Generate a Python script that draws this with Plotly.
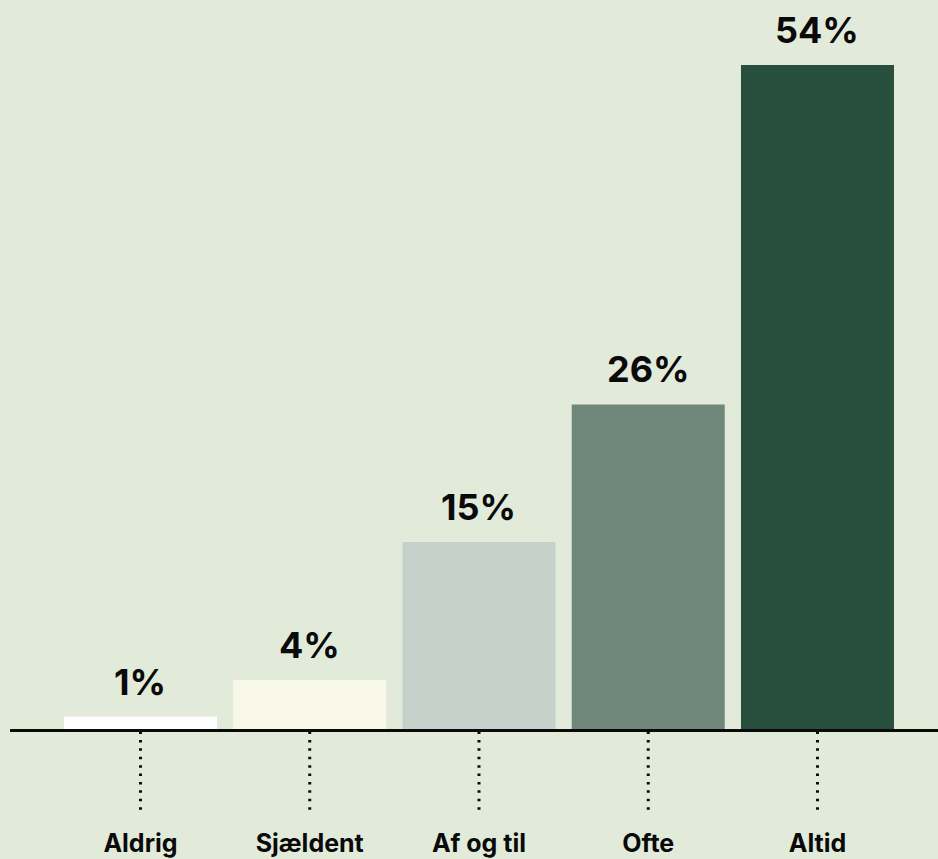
import plotly.graph_objects as go

categories = ["Aldrig", "Sjældent", "Af og til", "Ofte", "Altid"]
values = [1.0, 4.0, 15.2, 26.4, 54.0]
value_labels = ["1%", "4%", "15%", "26%", "54%"]
bar_colors = ["#ffffff", "#f7f8e8", "#c7d1cc", "#6e877a", "#284f3e"]

BG = "#e2eada"
FONT = "Inter, 'Noto Sans', Arial, sans-serif"

fig = go.Figure()
fig.add_trace(go.Bar(
    x=categories,
    y=values,
    marker=dict(color=bar_colors, line=dict(width=0)),
    hoverinfo="skip",
))

for cat, val, lab in zip(categories, values, value_labels):
    fig.add_annotation(
        x=cat, y=val, xref="x", yref="y",
        text=f"<b>{lab}</b>", showarrow=False,
        yanchor="bottom", yshift=11,
        font=dict(family=FONT, size=36, color="#0a0a0a"),
    )
    fig.add_shape(
        type="line", xref="x", yref="paper",
        x0=cat, x1=cat, y0=-0.0035, y1=-0.111,
        line=dict(color="#0a0a0a", width=3, dash="2.5px,5.9px"),
    )

fig.update_layout(
    width=938, height=859,
    paper_bgcolor=BG, plot_bgcolor=BG,
    margin=dict(l=10, r=0, t=0, b=130),
    bargap=0.096,
    showlegend=False,
    font=dict(family=FONT, color="#0a0a0a"),
    xaxis=dict(
        range=[-0.771, 4.712],
        showgrid=False, zeroline=False,
        showline=True, linecolor="#0a0a0a", linewidth=3,
        ticks="",
        tickfont=dict(family=FONT, size=25, color="#0a0a0a", weight="bold"),
        ticklabelstandoff=90,
        fixedrange=True,
    ),
    yaxis=dict(
        range=[0, 59.29],
        visible=False, showgrid=False, zeroline=False,
        fixedrange=True,
    ),
)

post = ("document.body.style.margin='0';document.body.style.padding='0';"
        "document.body.style.overflow='hidden';"
        "document.body.style.background='" + BG + "';")
fig.write_html("out.html", post_script=post, config={"displayModeBar": False})
